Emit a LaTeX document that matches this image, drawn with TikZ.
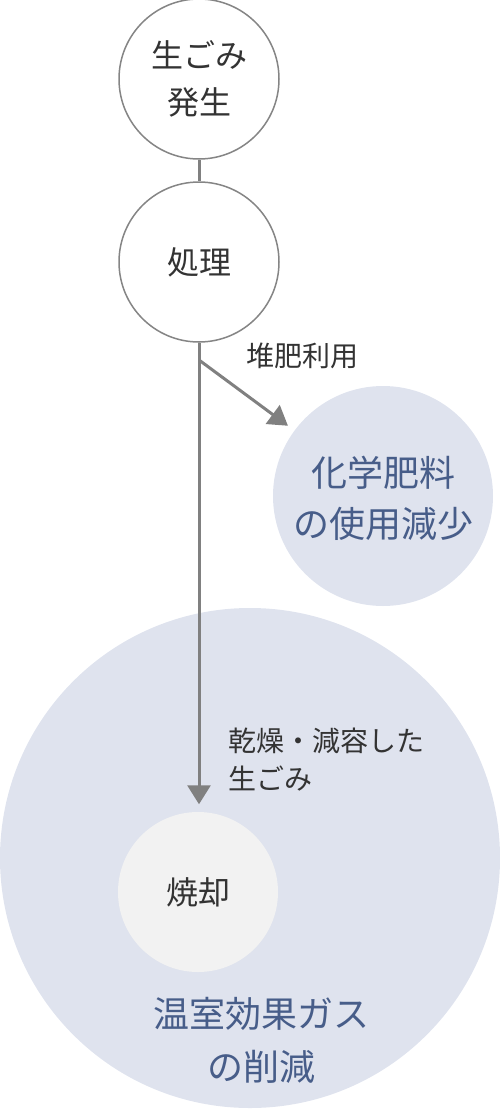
\documentclass[tikz,border=0pt]{standalone}
\usepackage{fontspec}
\setmainfont{Noto Sans CJK JP}
\usetikzlibrary{arrows.meta, positioning}

\definecolor{lineGray}{HTML}{808080}
\definecolor{ringGray}{HTML}{858585}
\definecolor{textGray}{HTML}{333333}
\definecolor{paleBlue}{HTML}{DFE3EE}
\definecolor{inkBlue}{HTML}{475D89}
\definecolor{paleGray}{HTML}{F2F2F2}

\tikzset{
  ring/.style={circle, draw=ringGray, line width=1.5pt, fill=white, minimum size=160pt, inner sep=0pt,
    text=textGray, align=center, font=\fontsize{32}{47}\selectfont},
  bluedisc/.style={circle, fill=paleBlue, inner sep=0pt},
  flow/.style={draw=lineGray, line width=3pt},
  flowarrow/.style={flow, -{Triangle[length=19pt,width=23pt]}},
  note/.style={text=textGray, align=left, font=\fontsize{28}{38}\selectfont, inner sep=0pt},
  bluetext/.style={text=inkBlue, align=center, font=\fontsize{36}{51}\selectfont, inner sep=0pt}
}

\begin{document}
\begin{tikzpicture}[x=1pt, y=-1pt]
\useasboundingbox (0,0) rectangle (500,1109);

% large background discs
\node[bluedisc, minimum size=500pt] (gas) at (250,858) {};
\node[bluedisc, minimum size=220pt] (kagaku) at (383,496) {};

\node[bluetext, yshift=-2pt] (kagakutext) at (kagaku) {化学肥料\\の使用減少};
\node[bluetext, font=\fontsize{36}{53}\selectfont] (gastext) at (261,1040) {温室効果ガス\\の削減};

% flow circles
\node[ring] (hassei) at (199,79) {生ごみ\\発生};
\node[ring] (shori) at (199,262) {処理};
\node[ring, draw=none, fill=paleGray] (shoukyaku) at (198,892) {焼却};

\coordinate (fork) at (199,360);

\draw[flow] (hassei) -- (shori);
\draw[flowarrow, shorten >=7pt] (shori.south) -- (shori.south |- shoukyaku.north);
\draw[flowarrow, shorten >=8pt] (fork) -- (kagaku);

% labels
\node[note, anchor=west] (taihi) at (246,356) {堆肥利用};
\node[note, anchor=west] (kansou) at (228,760) {乾燥・減容した\\生ごみ};

\end{tikzpicture}
\end{document}
